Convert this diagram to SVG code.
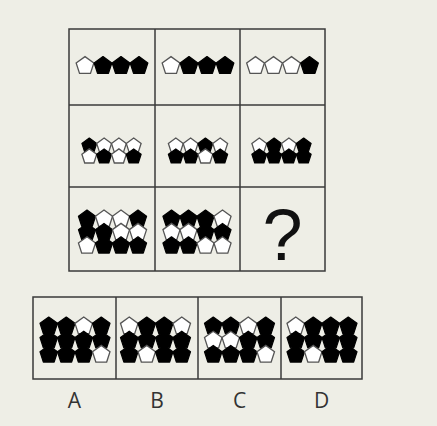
<svg xmlns="http://www.w3.org/2000/svg" xmlns:xlink="http://www.w3.org/1999/xlink" width="437" height="426" viewBox="0 0 437 426">
<style>
.frame{fill:none;stroke:#3a3a3a;stroke-width:1.5}
.b{fill:#000;stroke:#000;stroke-width:1.2;stroke-linejoin:round}
.w{fill:#fff;stroke:#555;stroke-width:1.3}
.lbl{font-family:"Open Sans","Liberation Sans",sans-serif;font-size:21px;fill:#333;text-anchor:middle}
.q{font-family:"Liberation Sans",sans-serif;font-size:72px;fill:#111;text-anchor:middle}
</style>
<defs>
<path id="p1" d="M0,-9.3L8.85,-2.87L5.47,7.52L-5.47,7.52L-8.85,-2.87Z"/>
<path id="p2" d="M0,-7.8L7.42,-2.41L4.58,6.31L-4.58,6.31L-7.42,-2.41Z"/>
<path id="p3" d="M0,-9L8.56,-2.78L5.29,7.28L-5.29,7.28L-8.56,-2.78Z"/>
<path id="p4" d="M0,-9.2L8.75,-2.84L5.41,7.44L-5.41,7.44L-8.75,-2.84Z"/>
</defs>
<rect width="437" height="426" fill="#eeeee6"/>
<g id="grid">
<rect class="frame" x="69" y="29" width="256" height="242"/>
<line class="frame" x1="155" y1="29" x2="155" y2="271"/>
<line class="frame" x1="240" y1="29" x2="240" y2="271"/>
<line class="frame" x1="69" y1="105" x2="325" y2="105"/>
<line class="frame" x1="69" y1="187" x2="325" y2="187"/>
</g>
<g id="options-frame">
<rect class="frame" x="33" y="297" width="329" height="82"/>
<line class="frame" x1="116" y1="297" x2="116" y2="379"/>
<line class="frame" x1="198" y1="297" x2="198" y2="379"/>
<line class="frame" x1="281" y1="297" x2="281" y2="379"/>
</g>
<g id="r1c1" transform="translate(112,65.9)">
<use href="#p1" class="w" x="-27"/><use href="#p1" class="b" x="-9"/><use href="#p1" class="b" x="9"/><use href="#p1" class="b" x="27"/>
</g>
<g id="r1c2" transform="translate(198,65.9)">
<use href="#p1" class="w" x="-27"/><use href="#p1" class="b" x="-9"/><use href="#p1" class="b" x="9"/><use href="#p1" class="b" x="27"/>
</g>
<g id="r1c3" transform="translate(282.5,65.9)">
<use href="#p1" class="w" x="-27"/><use href="#p1" class="w" x="-9"/><use href="#p1" class="w" x="9"/><use href="#p1" class="b" x="27"/>
</g>
<g id="r2c1" transform="translate(111.5,145.8)">
<use href="#p2" class="b" x="-22.2"/><use href="#p2" class="w" x="-7.4"/><use href="#p2" class="w" x="7.4"/><use href="#p2" class="w" x="22.2"/>
<use href="#p2" class="w" x="-22.2" y="10.9"/><use href="#p2" class="b" x="-7.4" y="10.9"/><use href="#p2" class="w" x="7.4" y="10.9"/><use href="#p2" class="b" x="22.2" y="10.9"/>
</g>
<g id="r2c2" transform="translate(198,145.8)">
<use href="#p2" class="w" x="-22.2"/><use href="#p2" class="w" x="-7.4"/><use href="#p2" class="b" x="7.4"/><use href="#p2" class="w" x="22.2"/>
<use href="#p2" class="b" x="-22.2" y="10.9"/><use href="#p2" class="b" x="-7.4" y="10.9"/><use href="#p2" class="w" x="7.4" y="10.9"/><use href="#p2" class="b" x="22.2" y="10.9"/>
</g>
<g id="r2c3" transform="translate(281.5,145.8)">
<use href="#p2" class="w" x="-22.2"/><use href="#p2" class="b" x="-7.4"/><use href="#p2" class="w" x="7.4"/><use href="#p2" class="b" x="22.2"/>
<use href="#p2" class="b" x="-22.2" y="10.9"/><use href="#p2" class="b" x="-7.4" y="10.9"/><use href="#p2" class="b" x="7.4" y="10.9"/><use href="#p2" class="b" x="22.2" y="10.9"/>
</g>
<g id="r3c1" transform="translate(112.5,219)">
<use href="#p3" class="b" x="-25.5"/><use href="#p3" class="w" x="-8.5"/><use href="#p3" class="w" x="8.5"/><use href="#p3" class="b" x="25.5"/>
<use href="#p3" class="b" x="-25.5" y="13.4"/><use href="#p3" class="b" x="-8.5" y="13.4"/><use href="#p3" class="w" x="8.5" y="13.4"/><use href="#p3" class="w" x="25.5" y="13.4"/>
<use href="#p3" class="w" x="-25.5" y="26.8"/><use href="#p3" class="b" x="-8.5" y="26.8"/><use href="#p3" class="b" x="8.5" y="26.8"/><use href="#p3" class="b" x="25.5" y="26.8"/>
</g>
<g id="r3c2" transform="translate(197,219)">
<use href="#p3" class="b" x="-25.5"/><use href="#p3" class="b" x="-8.5"/><use href="#p3" class="b" x="8.5"/><use href="#p3" class="w" x="25.5"/>
<use href="#p3" class="w" x="-25.5" y="13.4"/><use href="#p3" class="w" x="-8.5" y="13.4"/><use href="#p3" class="b" x="8.5" y="13.4"/><use href="#p3" class="b" x="25.5" y="13.4"/>
<use href="#p3" class="b" x="-25.5" y="26.8"/><use href="#p3" class="b" x="-8.5" y="26.8"/><use href="#p3" class="w" x="8.5" y="26.8"/><use href="#p3" class="w" x="25.5" y="26.8"/>
</g>
<g id="r3c3">
<text class="q" x="282.5" y="260">?</text>
</g>
<g id="optA" transform="translate(75,326.2)">
<use href="#p4" class="b" x="-26.25"/><use href="#p4" class="b" x="-8.75"/><use href="#p4" class="w" x="8.75"/><use href="#p4" class="b" x="26.25"/>
<use href="#p4" class="b" x="-26.25" y="14.2"/><use href="#p4" class="b" x="-8.75" y="14.2"/><use href="#p4" class="b" x="8.75" y="14.2"/><use href="#p4" class="b" x="26.25" y="14.2"/>
<use href="#p4" class="b" x="-26.25" y="28.4"/><use href="#p4" class="b" x="-8.75" y="28.4"/><use href="#p4" class="b" x="8.75" y="28.4"/><use href="#p4" class="w" x="26.25" y="28.4"/>
</g>
<g id="optB" transform="translate(155.5,326.2)">
<use href="#p4" class="w" x="-26.25"/><use href="#p4" class="b" x="-8.75"/><use href="#p4" class="b" x="8.75"/><use href="#p4" class="w" x="26.25"/>
<use href="#p4" class="b" x="-26.25" y="14.2"/><use href="#p4" class="b" x="-8.75" y="14.2"/><use href="#p4" class="b" x="8.75" y="14.2"/><use href="#p4" class="b" x="26.25" y="14.2"/>
<use href="#p4" class="b" x="-26.25" y="28.4"/><use href="#p4" class="w" x="-8.75" y="28.4"/><use href="#p4" class="b" x="8.75" y="28.4"/><use href="#p4" class="b" x="26.25" y="28.4"/>
</g>
<g id="optC" transform="translate(239.5,326.2)">
<use href="#p4" class="b" x="-26.25"/><use href="#p4" class="b" x="-8.75"/><use href="#p4" class="w" x="8.75"/><use href="#p4" class="b" x="26.25"/>
<use href="#p4" class="w" x="-26.25" y="14.2"/><use href="#p4" class="w" x="-8.75" y="14.2"/><use href="#p4" class="b" x="8.75" y="14.2"/><use href="#p4" class="b" x="26.25" y="14.2"/>
<use href="#p4" class="b" x="-26.25" y="28.4"/><use href="#p4" class="b" x="-8.75" y="28.4"/><use href="#p4" class="b" x="8.75" y="28.4"/><use href="#p4" class="w" x="26.25" y="28.4"/>
</g>
<g id="optD" transform="translate(322,326.2)">
<use href="#p4" class="w" x="-26.25"/><use href="#p4" class="b" x="-8.75"/><use href="#p4" class="b" x="8.75"/><use href="#p4" class="b" x="26.25"/>
<use href="#p4" class="b" x="-26.25" y="14.2"/><use href="#p4" class="b" x="-8.75" y="14.2"/><use href="#p4" class="b" x="8.75" y="14.2"/><use href="#p4" class="b" x="26.25" y="14.2"/>
<use href="#p4" class="b" x="-26.25" y="28.4"/><use href="#p4" class="w" x="-8.75" y="28.4"/><use href="#p4" class="b" x="8.75" y="28.4"/><use href="#p4" class="b" x="26.25" y="28.4"/>
</g>
<g id="labels">
<text class="lbl" x="74.5" y="408">A</text>
<text class="lbl" x="157" y="408">B</text>
<text class="lbl" x="239.5" y="408">C</text>
<text class="lbl" x="321.5" y="408">D</text>
</g>
</svg>
